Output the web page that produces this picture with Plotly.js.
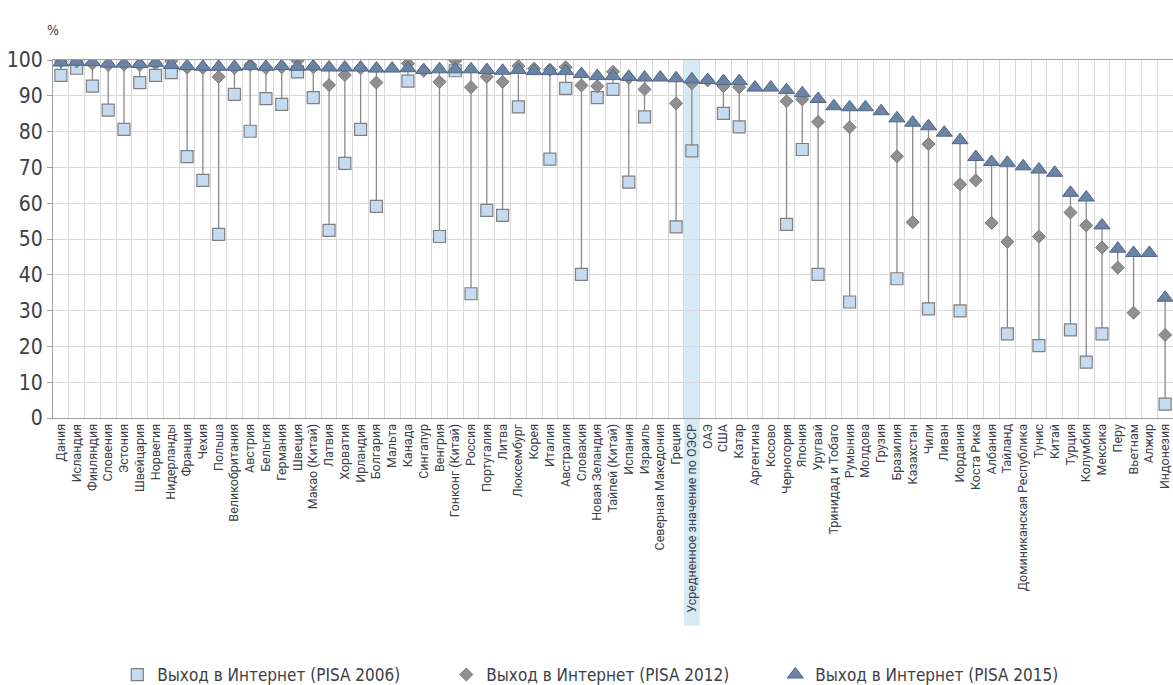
<!DOCTYPE html>
<html>
<head>
<meta charset="utf-8">
<script src="https://cdn.plot.ly/plotly-3.0.1.min.js"></script>
<style>html,body{margin:0;padding:0;background:#fff;}#chart{width:1173px;height:685px;}</style>
</head>
<body>
<div id="chart"></div>
<script>
const categories = ["Дания","Исландия","Финляндия","Словения","Эстония","Швейцария","Норвегия","Нидерланды","Франция","Чехия","Польша","Великобритания","Австрия","Бельгия","Германия","Швеция","Макао (Китай)","Латвия","Хорватия","Ирландия","Болгария","Мальта","Канада","Сингапур","Венгрия","Гонконг (Китай)","Россия","Португалия","Литва","Люксембург","Корея","Италия","Австралия","Словакия","Новая Зеландия","Тайпей (Китай)","Испания","Израиль","Северная Македония","Греция","Усредненное значение по ОЭСР","ОАЭ","США","Катар","Аргентина","Косово","Черногория","Япония","Уругвай","Тринидад и Тобаго","Румыния","Молдова","Грузия","Бразилия","Казахстан","Чили","Ливан","Иордания","Коста Рика","Албания","Тайланд","Доминиканская Республика","Тунис","Китай","Турция","Колумбия","Мексика","Перу","Вьетнам","Алжир","Индонезия"];

const pisa2006 = [95.7,97.7,92.7,86.0,80.6,93.7,95.7,96.5,73.0,66.4,51.3,90.4,80.1,89.2,87.6,96.7,89.5,52.4,71.1,80.6,59.1,null,94.1,null,50.7,97.0,34.7,58.0,56.6,86.9,null,72.3,92.1,40.1,89.5,91.8,65.9,84.1,null,53.4,74.6,null,85.1,81.3,null,null,54.1,75.0,40.1,null,32.4,null,null,38.9,null,30.5,null,29.9,null,null,23.5,null,20.2,null,24.6,15.6,23.5,null,null,null,3.9];

const pisa2012 = [99.6,99.6,99.0,98.6,98.7,98.6,99.0,99.7,97.9,97.8,95.3,97.8,98.6,97.8,98.0,99.8,98.0,93.0,95.8,97.7,93.7,null,99.0,97.0,93.9,99.8,92.4,95.3,93.9,98.3,97.6,97.3,98.0,92.9,92.7,96.7,95.0,91.8,null,87.9,93.5,94.3,92.7,92.4,null,null,88.5,89.0,82.7,null,81.2,null,null,73.1,54.7,76.5,null,65.3,66.4,54.5,49.2,null,50.7,null,57.4,53.8,47.6,42.0,29.4,null,23.2];

const pisa2015 = [99.3,99.5,99.4,99.0,99.0,98.9,99.2,98.6,98.3,98.1,98.1,98.1,98.3,98.1,98.3,98.1,98.2,97.9,97.9,97.9,97.6,97.6,97.7,97.2,97.4,97.4,97.4,97.2,97.0,97.2,96.9,96.9,96.9,96.1,95.5,95.5,95.3,95.1,95.1,94.9,94.6,94.4,94.1,94.1,92.3,92.3,91.6,90.7,89.1,87.1,86.8,86.8,85.7,83.7,82.5,81.5,79.7,77.6,72.9,71.5,71.3,70.3,69.4,68.5,62.9,61.6,53.8,47.3,46.1,46.1,33.6];

const seriesNames = ["Выход в Интернет (PISA 2006)","Выход в Интернет (PISA 2012)","Выход в Интернет (PISA 2015)"];
const yTicks = [0,10,20,30,40,50,60,70,80,90,100];
const highlightCategory = "Усредненное значение по ОЭСР";

// connector lines from min to max
const lx = [], ly = [];
categories.forEach((c, i) => {
  const vals = [pisa2006[i], pisa2012[i], pisa2015[i]].filter(v => v !== null);
  if (vals.length > 1) {
    lx.push(c, c, null);
    ly.push(Math.min(...vals), Math.max(...vals), null);
  }
});

const narrow = "DejaVu Sans Condensed, Liberation Sans Narrow, Roboto, sans-serif";

const traces = [
  {x: lx, y: ly, type: "scatter", mode: "lines", line: {color: "#8a8a8a", width: 1.3}, showlegend: false, hoverinfo: "skip"},
  {x: categories, y: pisa2006, name: seriesNames[0], type: "scatter", mode: "markers",
   marker: {symbol: "square", size: 12, color: "#c5dbf1", line: {color: "#7f7f7f", width: 1.2}}},
  {x: categories, y: pisa2012, name: seriesNames[1], type: "scatter", mode: "markers",
   marker: {symbol: "diamond", size: 10, color: "#8f8f8f", line: {color: "#7a7a7a", width: 1}}},
  {x: categories, y: pisa2015, name: seriesNames[2], type: "scatter", mode: "markers",
   marker: {symbol: "triangle-up", size: 14, color: "#6b84a5", line: {color: "#4f6687", width: 1}}}
];

const n = categories.length;
const hi = categories.indexOf(highlightCategory);

const layout = {
  width: 1173, height: 685,
  margin: {l: 53, r: 0, t: 60, b: 267, autoexpand: false},
  paper_bgcolor: "#ffffff",
  plot_bgcolor: "rgba(0,0,0,0)",
  font: {family: narrow, color: "#3c4048"},
  showlegend: true,
  legend: {orientation: "h", xref: "container", yref: "container", x: 0.1, xanchor: "left",
    y: 0.0146, yanchor: "middle",
    entrywidth: 284, entrywidthmode: "pixels",
    font: {family: narrow, size: 17, color: "#3c4048"}},
  xaxis: {type: "category", categoryorder: "array", categoryarray: categories,
    range: [-0.5, n - 0.5], tickson: "boundaries", showgrid: true,
    gridcolor: "#d9d9d9", gridwidth: 1, showline: true, mirror: true, linecolor: "#a0a0a0",
    ticks: "outside", ticklen: 5, tickcolor: "rgba(0,0,0,0)", tickangle: -90,
    tickfont: {family: "Roboto, sans-serif", size: 12.5, color: "#3c4048"},
    fixedrange: true},
  yaxis: {range: [0, 100], tickvals: yTicks, ticktext: yTicks.map(String), showgrid: true,
    gridcolor: "#d9d9d9", showline: true, linecolor: "#a0a0a0", ticks: "outside", ticklen: 5,
    tickcolor: "#a0a0a0", zeroline: false, tickfont: {family: narrow, size: 21, color: "#3c4048"},
    fixedrange: true},
  shapes: [{type: "rect", xref: "paper", yref: "paper", x0: hi / n, x1: (hi + 1) / n,
    y0: -0.58, y1: 1, fillcolor: "#d8e9f6", line: {width: 0}, layer: "below"}],
  annotations: [{text: "%", xref: "paper", yref: "paper", x: -0.007, y: 1.112,
    showarrow: false, font: {family: narrow, size: 14, color: "#3c4048"}}]
};

Plotly.newPlot("chart", traces, layout, {displayModeBar: false, staticPlot: true});
</script>
</body>
</html>
